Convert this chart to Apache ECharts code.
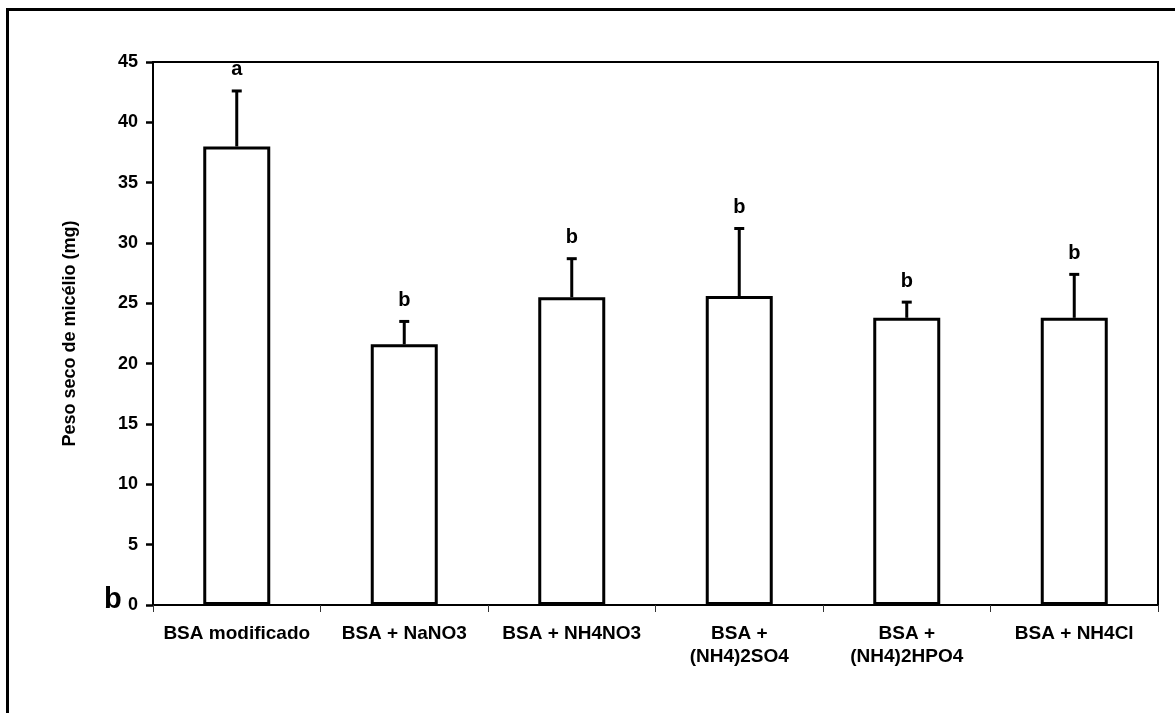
<!DOCTYPE html>
<html>
<head>
<meta charset="utf-8">
<script src="https://cdn.jsdelivr.net/npm/echarts@6/dist/echarts.min.js"></script>
<style>
  html, body { margin: 0; padding: 0; background: #fff; }
  #chart { width: 1175px; height: 713px; }
</style>
</head>
<body>
<div id="chart"></div>
<script>
// Dry mycelium weight per nitrogen source (mean and error)
const categories = ['BSA modificado', 'BSA + NaNO3', 'BSA + NH4NO3', 'BSA +\n(NH4)2SO4', 'BSA +\n(NH4)2HPO4', 'BSA + NH4Cl'];
const means = [38.0, 21.6, 25.5, 25.6, 23.8, 23.8];
const errors = [4.6, 1.9, 3.2, 5.6, 1.3, 3.6];
const letters = ['a', 'b', 'b', 'b', 'b', 'b'];
const yTicks = { min: 0, max: 45, step: 5 };
const yTitle = 'Peso seco de micélio (mg)';
const panelLetter = 'b';

const FONT = 'Liberation Sans, Arial, sans-serif';

const chart = echarts.init(document.getElementById('chart'), null, { renderer: 'canvas' });

const errData = categories.map((c, i) => [i, means[i], means[i] + errors[i], letters[i]]);

chart.setOption({
  animation: false,
  backgroundColor: '#fff',
  grid: {
    left: 153, right: 17, top: 62, bottom: 108,
    show: true, borderColor: '#000', borderWidth: 2, backgroundColor: 'transparent'
  },
  xAxis: {
    type: 'category',
    data: categories,
    axisLine: { lineStyle: { color: '#000', width: 2 } },
    axisTick: { show: true, alignWithLabel: false, length: 7, lineStyle: { color: '#333', width: 1 } },
    axisLabel: {
      color: '#000', fontFamily: FONT, fontWeight: 'bold', fontSize: 19,
      margin: 17, lineHeight: 23, interval: 0
    },
    splitLine: { show: false }
  },
  yAxis: {
    type: 'value',
    min: yTicks.min, max: yTicks.max, interval: yTicks.step,
    name: yTitle,
    nameLocation: 'middle',
    nameGap: 74,
    nameRotate: 90,
    nameTextStyle: { color: '#000', fontFamily: FONT, fontWeight: 'bold', fontSize: 18 },
    axisLine: { show: true, lineStyle: { color: '#000', width: 2 } },
    axisTick: { show: true, length: 7, lineStyle: { color: '#000', width: 2.5 } },
    axisLabel: { color: '#000', fontFamily: FONT, fontWeight: 'bold', fontSize: 18, margin: 15 },
    splitLine: { show: false }
  },
  series: [
    {
      type: 'bar',
      data: means,
      barWidth: '40%',
      itemStyle: { color: '#fff', borderColor: '#000', borderWidth: 3 },
      z: 2
    },
    {
      // upper error whisker with cap, plus significance letter above it
      type: 'custom',
      data: errData,
      z: 3,
      renderItem: function (params, api) {
        const x = api.coord([api.value(0), api.value(1)])[0];
        const yBase = api.coord([api.value(0), api.value(1)])[1];
        const yTop = api.coord([api.value(0), api.value(2)])[1];
        const capHalf = 5;
        return {
          type: 'group',
          children: [
            { type: 'line', shape: { x1: x, y1: yBase, x2: x, y2: yTop }, style: { stroke: '#000', lineWidth: 3 } },
            { type: 'line', shape: { x1: x - capHalf, y1: yTop, x2: x + capHalf, y2: yTop }, style: { stroke: '#000', lineWidth: 3 } },
            {
              type: 'text',
              style: {
                x: x, y: yTop - 11,
                text: api.value(3),
                textAlign: 'center', textVerticalAlign: 'bottom',
                fill: '#000', font: 'bold 20px ' + FONT
              }
            }
          ]
        };
      }
    }
  ],
  graphic: [
    {
      type: 'rect',
      shape: { x: 7.5, y: 9.5, width: 1300, height: 800 },
      style: { fill: 'none', stroke: '#000', lineWidth: 3 },
      silent: true
    },
    {
      type: 'text',
      left: 104, top: 585,
      style: { text: panelLetter, fill: '#000', font: 'bold 29px ' + FONT }
    }
  ]
});
</script>
</body>
</html>
